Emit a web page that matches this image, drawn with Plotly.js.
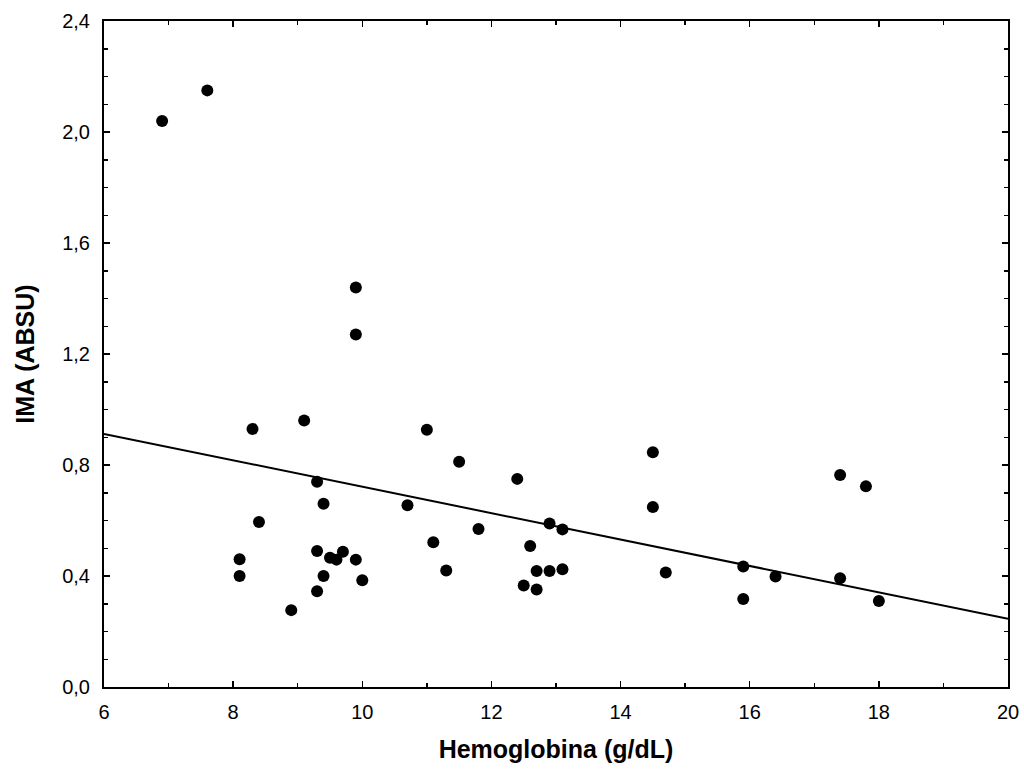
<!DOCTYPE html>
<html>
<head>
<meta charset="utf-8">
<script src="https://cdn.plot.ly/plotly-3.0.1.min.js"></script>
<style>html,body{margin:0;padding:0;background:#fff;}#chart{width:1024px;height:770px;}</style>
</head>
<body>
<div id="chart"></div>
<script>
var hemoglobina = [6.9, 7.6, 8.3, 9.1, 9.9, 9.9, 9.3, 9.4, 10.7, 8.4, 9.3, 8.1, 9.5, 9.6, 9.7, 9.9, 8.1, 9.4, 10.0, 9.3, 8.9,
  11.0, 11.5, 12.4, 14.5, 14.5, 11.8, 12.9, 13.1, 11.1, 12.6, 11.3, 12.7, 12.9, 13.1, 14.7, 12.5, 12.7,
  17.4, 17.8, 15.9, 16.4, 17.4, 15.9, 18.0];
var ima = [2.04, 2.15, 0.93, 0.96, 1.44, 1.27, 0.74, 0.66, 0.655, 0.595, 0.49, 0.46, 0.466, 0.459, 0.487, 0.459, 0.40, 0.40, 0.385, 0.345, 0.277,
  0.927, 0.812, 0.75, 0.846, 0.649, 0.569, 0.589, 0.568, 0.522, 0.508, 0.42, 0.418, 0.418, 0.424, 0.413, 0.366, 0.351,
  0.764, 0.723, 0.434, 0.398, 0.392, 0.317, 0.310];
var fitX = [6, 20];
var fitY = [0.912, 0.246];

var FONT = 'Liberation Sans, Arial, sans-serif';
var traces = [
  {x: hemoglobina, y: ima, type: 'scatter', mode: 'markers',
   marker: {color: '#000', size: 12}, hoverinfo: 'x+y'},
  {x: fitX, y: fitY, type: 'scatter', mode: 'lines',
   line: {color: '#000', width: 2}}
];
var axisCommon = {
  showgrid: false, zeroline: false, showline: true, linecolor: '#000', linewidth: 2,
  mirror: 'allticks', ticks: 'inside', ticklen: 6, tickwidth: 1.5, tickcolor: '#000',
  tickfont: {family: FONT, size: 20, color: '#000'}
};
var layout = {
  width: 1024, height: 770,
  margin: {l: 104, r: 16, t: 21, b: 83},
  paper_bgcolor: '#fff', plot_bgcolor: '#fff',
  showlegend: false,
  separators: ',.',
  xaxis: Object.assign({}, axisCommon, {
    range: [6, 20], dtick: 2, tick0: 6, ticklabelstandoff: 6,
    minor: {ticks: 'inside', dtick: 1, ticklen: 4, tickcolor: '#000', tickwidth: 1.5},
    title: {text: '<b>Hemoglobina (g/dL)</b>', standoff: 18,
      font: {family: FONT, size: 25, color: '#000'}}
  }),
  yaxis: Object.assign({}, axisCommon, {
    range: [0, 2.4], dtick: 0.4, tick0: 0, tickformat: '.1f', ticklabelstandoff: 8,
    minor: {ticks: 'inside', dtick: 0.1, ticklen: 4, tickcolor: '#000', tickwidth: 1.5},
    title: {text: '<b>IMA (ABSU)</b>', standoff: 20,
      font: {family: FONT, size: 25, color: '#000'}}
  })
};
Plotly.newPlot('chart', traces, layout, {displayModeBar: false, staticPlot: true});
</script>
</body>
</html>
